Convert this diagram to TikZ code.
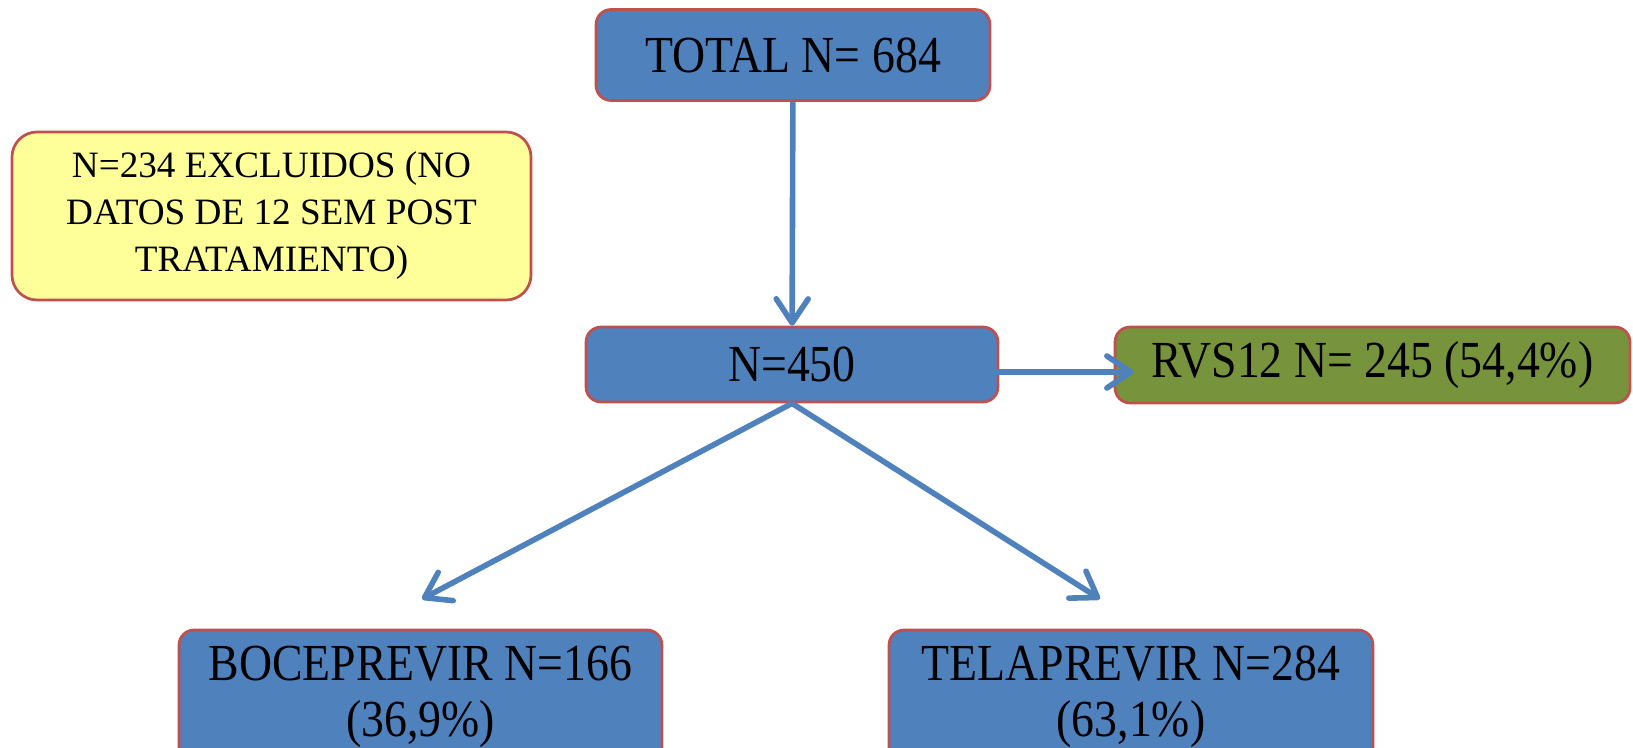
\documentclass[tikz,border=0pt]{standalone}
\usepackage{fontspec}
\setmainfont{Liberation Serif}
\newfontfamily\narrowfont{Liberation Serif}[FakeStretch=0.88]
\usetikzlibrary{arrows.meta}
\definecolor{boxblue}{HTML}{4F81BD}
\definecolor{boxred}{HTML}{C0504D}
\definecolor{boxgreen}{HTML}{77933C}
\definecolor{boxyellow}{HTML}{FFFF99}
\tikzset{
	stage/.style={draw=boxred, line width=1.35pt, rounded corners=7.5pt, fill=boxblue, inner sep=0pt, align=center, font=\narrowfont\fontsize{26}{28}\selectfont},
	flow/.style={draw=boxblue, line width=2.8pt, -{Straight Barb[length=12pt,width=16pt,round]}}
}
\begin{document}
\begin{tikzpicture}[x=0.5pt,y=-0.5pt]
		
		\useasboundingbox (0,0) rectangle (1633,748);
		
		\node[stage, minimum width=197pt, minimum height=45.5pt] (total) at (793,55) {TOTAL N= 684};
		\node[stage, fill=boxyellow, rounded corners=12.5pt, minimum width=259.5pt, minimum height=84pt, font=\fontsize{18.6}{23.5}\selectfont] (excl) at (271.5,216) {N=234 EXCLUIDOS (NO\\DATOS DE 12 SEM POST\\TRATAMIENTO)};
		\node[stage, minimum width=206pt, minimum height=37.5pt] (n450) at (792,364.5) {N=450};
		\node[stage, fill=boxgreen, minimum width=257.5pt, minimum height=38pt] (rvs) at (1372.5,365) {RVS12 N= 245 (54,4\%)};
		\node[stage, minimum width=241.5pt, minimum height=67pt] (boce) at (420.5,697) {BOCEPREVIR N=166\\(36,9\%)};
		\node[stage, minimum width=242pt, minimum height=67pt] (tela) at (1131,697) {TELAPREVIR N=284\\(63,1\%)};
		
		\coordinate (boceIn) at (422,599);
		\coordinate (telaIn) at (1100,599);
		
		\draw[flow] (total) -- (n450);
		\draw[flow] ([xshift=63pt,yshift=-3.75pt]n450.center) -- ([xshift=10pt,yshift=-3.5pt]rvs.west);
		\draw[flow] (n450.south) -- (boceIn);
		\draw[flow] (n450.south) -- (telaIn);
		
\end{tikzpicture}
\end{document}
